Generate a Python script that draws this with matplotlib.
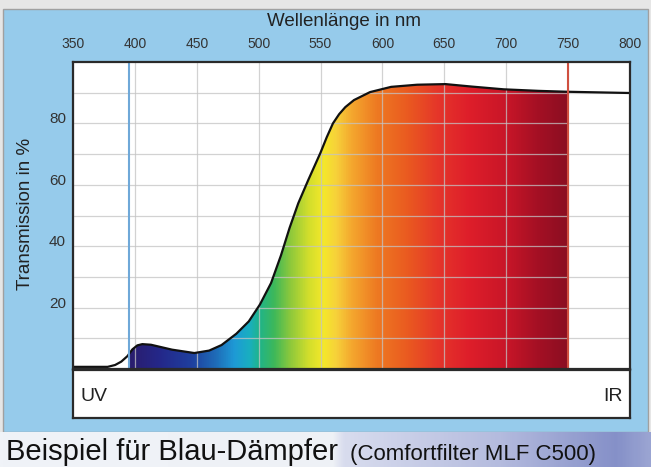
import numpy as np
import matplotlib
matplotlib.use('Agg')
import matplotlib.pyplot as plt
from matplotlib.colors import LinearSegmentedColormap
from matplotlib.patches import Rectangle

plt.rcParams['font.family'] = ['Liberation Sans', 'DejaVu Sans']

# transmission curve
wavelength = [350, 378, 384, 389, 394, 398, 402, 406, 413, 430, 448, 460, 470, 482, 492, 501,
              510, 518, 525, 532, 540, 550, 555, 560, 565, 570, 577, 590, 607, 628, 651, 672,
              698, 726, 750, 775, 800]
transmission = [0.7, 0.7, 1.3, 2.4, 4.2, 6.4, 7.7, 8.1, 7.9, 6.3, 5.2, 6.0, 7.8, 11.5, 15.5, 21,
                28, 37, 46, 54, 61.5, 70.5, 75.5, 80.0, 83.0, 85.3, 87.6, 90.2, 91.9, 92.6, 92.8,
                92.0, 91.1, 90.6, 90.3, 90.1, 89.9]
x_ticks = [350, 400, 450, 500, 550, 600, 650, 700, 750, 800]
y_ticks = [20, 40, 60, 80]
uv_edge = 395
ir_edge = 750

# spectrum colours
spec_nm = [396, 420, 445, 465, 480, 492, 500, 512, 525, 540, 552, 562, 575, 595, 620, 645,
           670, 700, 725, 750]
spec_col = ['#2a1d6e', '#24288a', '#1f3f9e', '#1e6cb8', '#1e9ad6', '#19afc0', '#20b48a',
            '#3db85a', '#8cc83c', '#d2de2c', '#f4e82a', '#f7d23a', '#f4a72e', '#ee7a22',
            '#ea5a20', '#e5352a', '#de1e2a', '#c81628', '#a51024', '#8a0e22']

W, H = 651, 467
fig = plt.figure(figsize=(W / 100, H / 100), dpi=100)
fig.patch.set_facecolor('#e6e6e6')

def fx(px):
    return px / W

def fy(py):
    return 1 - py / H

# blue panel
fig.patches.append(Rectangle((fx(3), fy(432)), fx(645), (432 - 9) / H, transform=fig.transFigure,
                             facecolor='#96cbeb', edgecolor='#a0a0a0', lw=1, zorder=-5))

# title bar gradient
tb = fig.add_axes([0, 0, 1, 35 / H])
tb.set_axis_off()
bar_cm = LinearSegmentedColormap.from_list('bar', [(0, '#f0f3f8'), (0.51, '#eef1f6'),
                                                   (0.53, '#d8dcee'), (0.77, '#b4bbde'),
                                                   (0.95, '#8590c8'), (1, '#9aa4d2')])
tb.imshow(np.linspace(0, 1, 300)[None, :], cmap=bar_cm, aspect='auto', extent=[0, 1, 0, 1])
tb.set_xlim(0, 1)
tb.set_ylim(0, 1)

# main chart
ax = fig.add_axes([fx(73), fy(369), 557 / W, 307 / H])
ax.set_facecolor('white')

cmap = LinearSegmentedColormap.from_list(
    'spec', [((n - spec_nm[0]) / (spec_nm[-1] - spec_nm[0]), c) for n, c in zip(spec_nm, spec_col)])
poly = ax.fill_between(wavelength, transmission, 0, facecolor='none', edgecolor='none')
im = ax.imshow(np.linspace(0, 1, 512)[None, :], cmap=cmap, aspect='auto',
               extent=[spec_nm[0], spec_nm[-1], 0, 100], zorder=1)
im.set_clip_path(poly.get_paths()[0], transform=ax.transData)
ax.set_xlim(350, 800)
ax.set_ylim(0, 100)

ax.plot(wavelength, transmission, color='#111111', lw=1.6, zorder=3, solid_joinstyle='round')
ax.axvline(uv_edge, color='#6fa8d8', lw=1.5, zorder=4)
ax.axvline(ir_edge, color='#d05040', lw=1.5, zorder=4)

ax.xaxis.tick_top()
ax.set_xticks(x_ticks)
ax.set_yticks(y_ticks)
ax.set_yticks([10, 30, 50, 70, 90], minor=True)
ax.tick_params(which='both', length=0)
ax.tick_params(axis='x', labelsize=10, labelcolor='#333333', pad=8)
ax.tick_params(axis='y', labelsize=11, labelcolor='#333333', pad=5)
for lab in ax.get_yticklabels():
    lab.set_va('baseline')
ax.set_axisbelow(False)
ax.grid(True, which='both', color='#c4c4c4', lw=0.9, alpha=0.75)
for sp in ax.spines.values():
    sp.set_color('#2a2a2a')
    sp.set_linewidth(1.6)
    sp.set_zorder(5)

# UV / IR strip
box = fig.add_axes([fx(73), fy(418), 557 / W, 48 / H])
box.set_xticks([])
box.set_yticks([])
for sp in box.spines.values():
    sp.set_color('#2a2a2a')
    sp.set_linewidth(1.6)
box.text(0.013, 0.45, 'UV', fontsize=14, color='#222222', va='center', ha='left', transform=box.transAxes)
box.text(0.987, 0.45, 'IR', fontsize=14, color='#222222', va='center', ha='right', transform=box.transAxes)

fig.text(fx(344), fy(22), 'Wellenlänge in nm', fontsize=13.5, color='#222222', ha='center', va='center')
fig.text(fx(26), fy(214), 'Transmission in %', fontsize=13.5, color='#222222', ha='center', va='center',
         rotation=90)
fig.text(fx(6), fy(460), 'Beispiel für Blau-Dämpfer', fontsize=21, color='#111111', ha='left', va='baseline')
fig.text(fx(350), fy(460), '(Comfortfilter MLF C500)', fontsize=16, color='#111111', ha='left',
         va='baseline')

fig.savefig('out.png', dpi=100, facecolor=fig.get_facecolor())
